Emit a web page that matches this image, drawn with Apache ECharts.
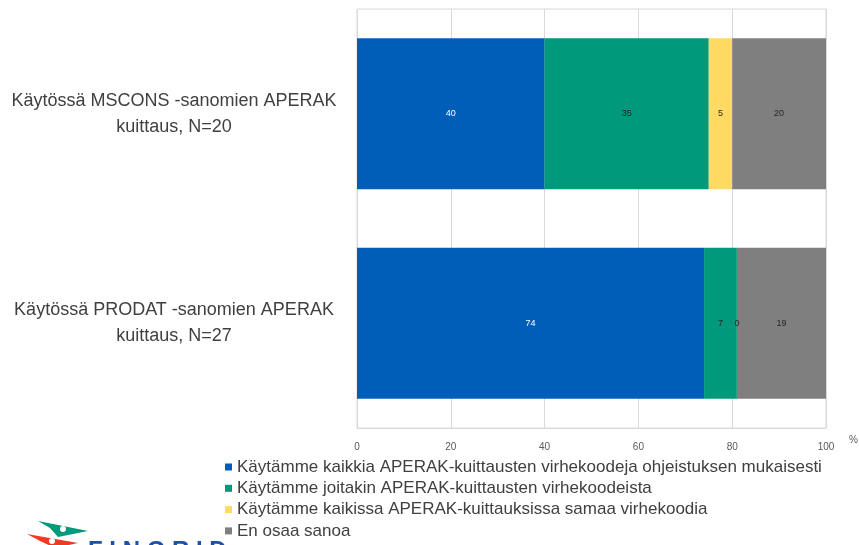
<!DOCTYPE html>
<html lang="fi">
<head>
    <meta charset="UTF-8">
    <title>APERAK-kuittaus</title>
</head>
<body style="margin: 0">
<div id="container" style="height: 545px; width: 859px;"></div>
<script type="text/javascript" src="https://cdn.jsdelivr.net/npm/echarts@6.0.0/dist/echarts.min.js"></script>
<script type="text/javascript">
    const categories = [
        'Käytössä MSCONS -sanomien APERAK kuittaus, N=20',
        'Käytössä PRODAT -sanomien APERAK kuittaus, N=27'
    ];
    const seriesNames = [
        'Käytämme kaikkia APERAK-kuittausten virhekoodeja ohjeistuksen mukaisesti',
        'Käytämme joitakin APERAK-kuittausten virhekoodeista',
        'Käytämme kaikissa APERAK-kuittauksissa samaa virhekoodia',
        'En osaa sanoa'
    ];
    const allCodes = [40, 74];
    const someCodes = [35, 7];
    const sameCode = [5, 0];
    const dontKnow = [20, 19];
    const xTicks = [0, 20, 40, 60, 80, 100];

    const colors = ['#005eb8', '#00997b', '#ffda63', '#7f7f7f'];
    const labelColors = ['#ffffff', '#262626', '#262626', '#262626'];
    const values = [allCodes, someCodes, sameCode, dontKnow];

    const dom = document.getElementById('container');
    const myChart = echarts.init(dom, null, {renderer: 'canvas'});

    const option = {
        animation: false,
        color: colors,
        textStyle: {fontFamily: 'Liberation Sans'},
        grid: {
            left: 357, right: 33, top: 9, bottom: 117,
            outerBoundsMode: 'none',
            show: true, borderColor: '#d9d9d9', borderWidth: 1
        },
        legend: {
            orient: 'vertical',
            left: 220,
            top: 453,
            height: 200,
            icon: 'rect',
            itemWidth: 7,
            itemHeight: 7,
            itemGap: 3.3,
            textStyle: {fontSize: 17, color: '#404040', lineHeight: 18},
            data: seriesNames
        },
        xAxis: {
            type: 'value',
            min: xTicks[0],
            max: xTicks[xTicks.length - 1],
            interval: 20,
            name: '%',
            nameLocation: 'end',
            nameGap: 23,
            nameTextStyle: {fontSize: 10, color: '#595959', verticalAlign: 'top', padding: [7, 0, 0, 0]},
            axisLine: {show: true, lineStyle: {color: '#d9d9d9'}},
            axisTick: {show: false},
            splitLine: {lineStyle: {color: '#d9d9d9'}},
            axisLabel: {fontSize: 10, color: '#595959', margin: 14}
        },
        yAxis: {
            type: 'category',
            inverse: true,
            data: categories,
            axisLine: {show: false},
            axisTick: {show: false},
            axisLabel: {
                fontSize: 18,
                lineHeight: 26,
                color: '#404040',
                align: 'center',
                margin: 183,
                formatter: function (value) {
                    return value.replace(' kuittaus', '\nkuittaus');
                }
            }
        },
        series: values.map(function (v, i) {
            return {
                name: seriesNames[i],
                type: 'bar',
                stack: 'total',
                barWidth: '72%',
                data: v,
                label: {
                    show: true,
                    position: 'inside',
                    fontSize: 9,
                    color: labelColors[i]
                }
            };
        }),
        graphic: [
            {
                type: 'polygon',
                shape: {points: [[38, 521], [88, 531], [58, 537], [50, 528]]},
                style: {fill: '#009a7c'}
            },
            {type: 'circle', shape: {cx: 63, cy: 529, r: 3}, style: {fill: '#ffffff'}},
            {
                type: 'polygon',
                shape: {points: [[27, 534], [78, 543], [55, 548], [40, 541]]},
                style: {fill: '#ee3b24'}
            },
            {type: 'circle', shape: {cx: 52, cy: 541, r: 3}, style: {fill: '#ffffff'}},
            {
                type: 'text',
                left: 88,
                top: 539,
                style: {text: 'F I N G R I D', fontSize: 24, fontWeight: 'bold', fill: '#1d50a8', fontFamily: 'Liberation Sans'}
            }
        ]
    };
    myChart.setOption(option);
</script>
</body>
</html>
